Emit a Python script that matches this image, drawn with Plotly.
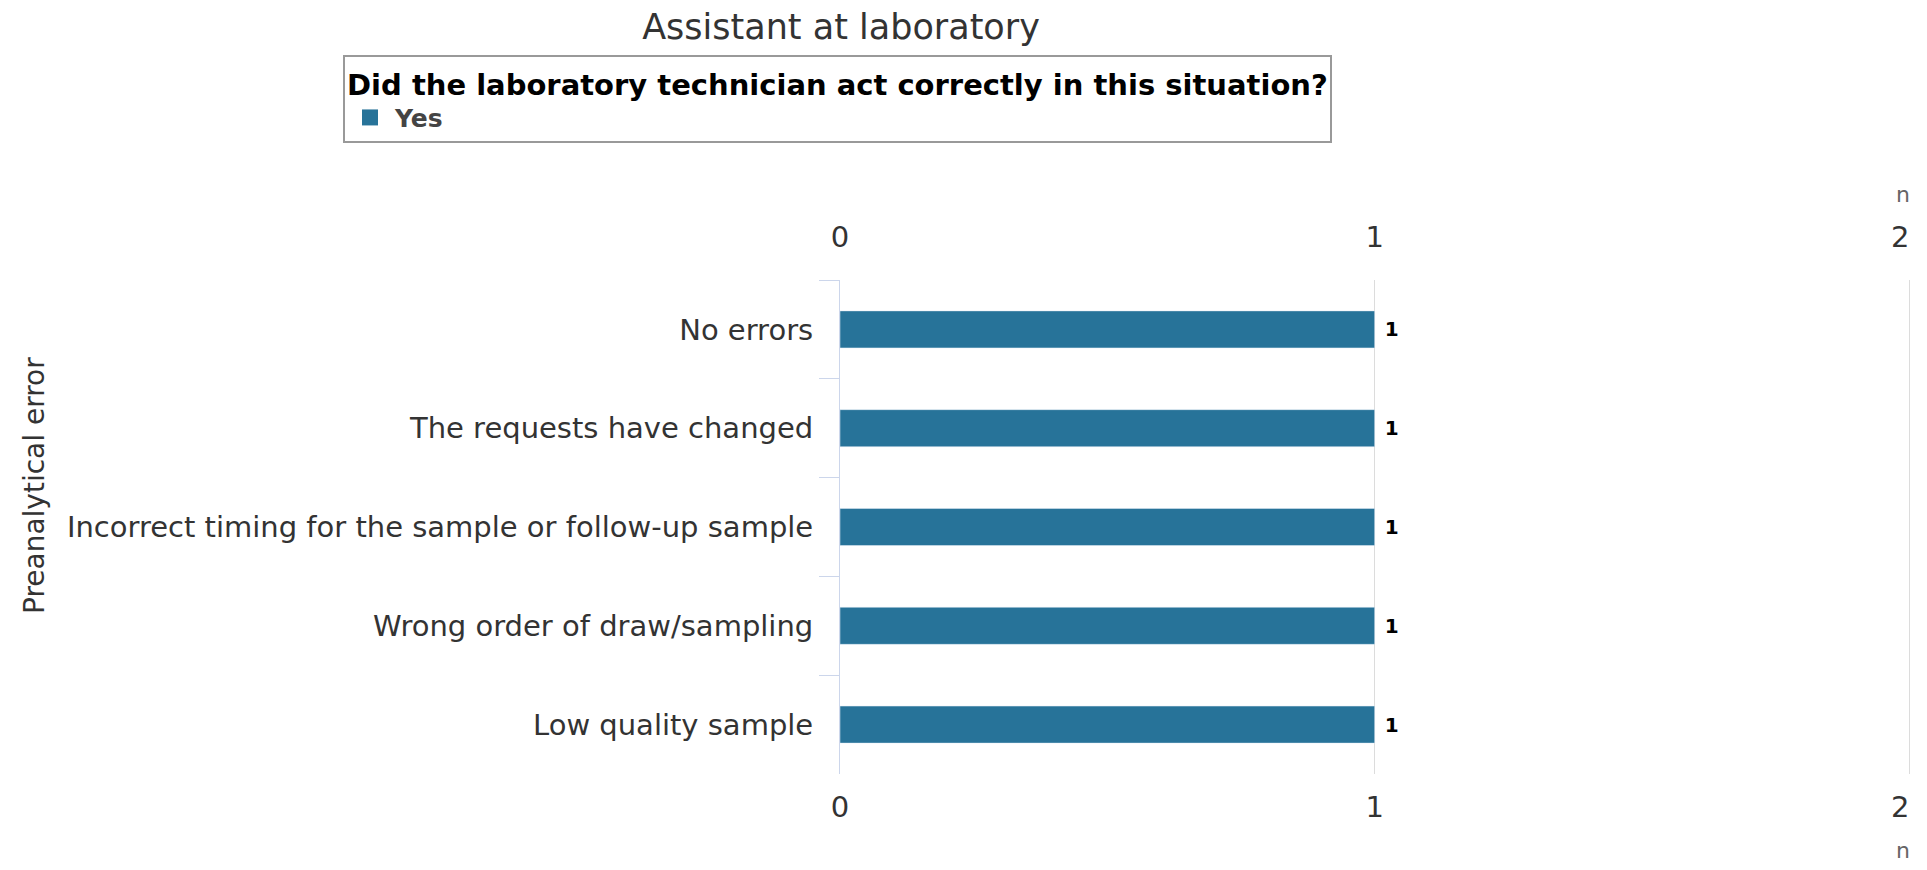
import plotly.graph_objects as go

# data
categories = [
    "No errors",
    "The requests have changed",
    "Incorrect timing for the sample or follow-up sample",
    "Wrong order of draw/sampling",
    "Low quality sample",
]
yes_counts = [1, 1, 1, 1, 1]
x_ticks = [0, 1, 2]
x_tick_labels = ["0", "1", "2\u00a0\u00a0"]  # last label kept inside the chart

FONT = "DejaVu Sans"
BAR_COLOR = "#277399"
GRID = "#dcdcdc"

fig = go.Figure()

fig.add_trace(
    go.Bar(
        y=categories,
        x=yes_counts,
        orientation="h",
        name="Yes",
        marker_color=BAR_COLOR,
        marker_line_width=0,
        texttemplate="\u00a0%{x}",
        textposition="outside",
        textfont=dict(family=FONT, size=20, color="black", weight="bold"),
        cliponaxis=False,
        showlegend=False,
    )
)

# legend entry with a bigger square symbol
fig.add_trace(
    go.Scatter(
        x=[None],
        y=[None],
        mode="markers",
        name="Yes",
        marker=dict(symbol="square", size=22, color=BAR_COLOR),
    )
)

# invisible companion trace so the top axis is drawn
fig.add_trace(
    go.Bar(
        y=categories,
        x=yes_counts,
        orientation="h",
        xaxis="x2",
        marker_color="rgba(0,0,0,0)",
        showlegend=False,
        hoverinfo="skip",
    )
)

fig.update_layout(
    width=1927,
    height=870,
    paper_bgcolor="white",
    plot_bgcolor="white",
    font=dict(family=FONT, color="#333333"),
    margin=dict(l=840, r=15, t=280, b=96),
    bargap=0.625,
    title=dict(
        text="Assistant at laboratory",
        x=841 / 1927,
        xanchor="center",
        xref="container",
        y=1 - 27 / 870,
        yanchor="middle",
        font=dict(size=35, color="#333333"),
    ),
    showlegend=True,
    legend=dict(
        x=-0.4636,
        y=1.4555,
        xanchor="left",
        yanchor="top",
        bordercolor="#999999",
        borderwidth=2,
        bgcolor="white",
        itemwidth=40,
        title=dict(
            text="Did the laboratory technician act correctly in this situation?",
            side="top",
            font=dict(size=29, color="black", weight="bold"),
        ),
        font=dict(size=25, color="#444444", weight="bold"),
    ),
    xaxis=dict(
        range=[0, 2.005],
        automargin=False,
        tickvals=x_ticks,
        ticktext=x_tick_labels,
        ticklabeloverflow="allow",
        showgrid=True,
        gridcolor=GRID,
        gridwidth=1,
        zeroline=False,
        showline=False,
        ticks="outside",
        ticklen=7,
        tickcolor="rgba(0,0,0,0)",
        tickfont=dict(size=29, color="#333333"),
        side="bottom",
    ),
    xaxis2=dict(
        matches="x",
        overlaying="x",
        side="top",
        automargin=False,
        tickvals=x_ticks,
        ticktext=x_tick_labels,
        ticklabeloverflow="allow",
        showgrid=False,
        zeroline=False,
        ticks="outside",
        ticklen=20,
        tickcolor="rgba(0,0,0,0)",
        tickfont=dict(size=29, color="#333333"),
    ),
    yaxis=dict(
        categoryorder="array",
        categoryarray=categories,
        autorange="reversed",
        automargin=False,
        showline=True,
        linecolor="#ccd6eb",
        linewidth=1,
        ticks="outside",
        tickson="boundaries",
        ticklen=20,
        tickcolor="#ccd6eb",
        ticklabelstandoff=20,
        tickfont=dict(size=29, color="#333333"),
        showgrid=False,
    ),
)

fig.add_annotation(
    text="Preanalytical error",
    xref="paper",
    yref="paper",
    x=(34 - 840) / 1072,
    y=(774 - 486) / 494,
    xanchor="center",
    yanchor="middle",
    textangle=-90,
    showarrow=False,
    font=dict(size=28, color="#333333"),
)
for n_y in [194, 850]:
    fig.add_annotation(
        text="n",
        xref="paper",
        yref="paper",
        x=1.0,
        y=(774 - n_y) / 494,
        xanchor="right",
        yanchor="middle",
        showarrow=False,
        font=dict(size=22, color="#666666"),
    )

fig.write_html(
    "out.html",
    config={"displayModeBar": False},
    post_script="document.body.style.margin='0';",
)
